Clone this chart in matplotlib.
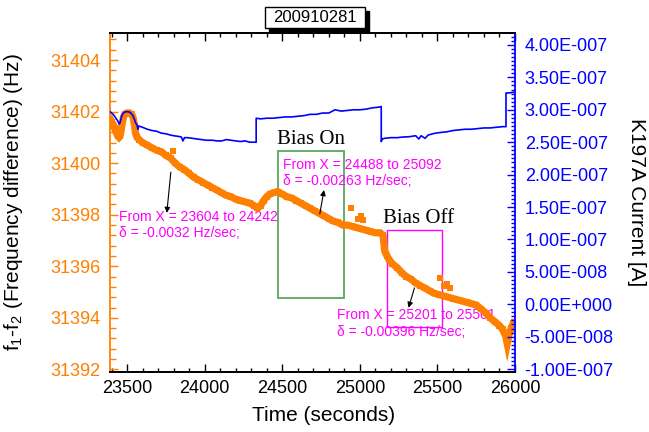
import numpy as np
import matplotlib
matplotlib.use("Agg")
import matplotlib.pyplot as plt
from matplotlib.patches import Rectangle
from matplotlib.ticker import MultipleLocator, FixedLocator, FuncFormatter

plt.rcParams['font.family'] = ['Liberation Sans', 'DejaVu Sans']
plt.rcParams['mathtext.fontset'] = 'custom'
plt.rcParams['mathtext.rm'] = 'Liberation Sans'
plt.rcParams['mathtext.it'] = 'Liberation Sans:italic'

# f1-f2 (Hz) vs time (s)
freq_t = [23392, 23400, 23410, 23420, 23430, 23440, 23448, 23455, 23465, 23475,
          23485, 23500, 23515, 23530, 23540, 23548, 23555, 23565, 23580, 23600,
          23630, 23660, 23690, 23720, 23750, 23780, 23810, 23840, 23870, 23900,
          23930, 23960, 23990, 24020, 24050, 24080, 24110, 24140, 24170, 24200,
          24230, 24260, 24290, 24320, 24340, 24360, 24380, 24400, 24420, 24440,
          24470, 24500, 24530, 24560, 24590, 24620, 24650, 24680, 24710, 24740,
          24770, 24800, 24830, 24860, 24890, 24920, 24950, 24980, 25010, 25040,
          25070, 25100, 25130, 25150, 25160, 25175, 25190, 25210, 25240, 25270,
          25300, 25330, 25360, 25390, 25420, 25450, 25480, 25510, 25540, 25570,
          25600, 25630, 25660, 25690, 25720, 25750, 25780, 25810, 25840, 25870,
          25900, 25920, 25940, 25950, 25960, 25975, 25990]
freq_hz = [31401.7, 31401.6, 31401.5, 31401.35, 31401.2, 31401.05, 31401.0, 31401.05, 31401.4, 31401.75,
           31401.9, 31401.95, 31401.95, 31401.9, 31401.75, 31401.45, 31401.15, 31401.0, 31400.9, 31400.8,
           31400.7, 31400.6, 31400.5, 31400.45, 31400.3, 31400.2, 31400.0, 31399.85, 31399.75, 31399.6,
           31399.45, 31399.35, 31399.25, 31399.15, 31399.05, 31398.95, 31398.85, 31398.75, 31398.7, 31398.6,
           31398.55, 31398.5, 31398.45, 31398.35, 31398.25, 31398.35, 31398.55, 31398.7, 31398.8, 31398.85,
           31398.9, 31398.8, 31398.7, 31398.65, 31398.55, 31398.45, 31398.35, 31398.25, 31398.15, 31398.05,
           31397.95, 31397.85, 31397.75, 31397.7, 31397.6, 31397.6, 31397.55, 31397.5, 31397.45, 31397.4,
           31397.35, 31397.3, 31397.3, 31397.2, 31396.6, 31396.4, 31396.25, 31396.1, 31395.95, 31395.75,
           31395.6, 31395.5, 31395.35, 31395.25, 31395.15, 31395.05, 31394.95, 31394.9, 31394.85, 31394.8,
           31394.75, 31394.7, 31394.65, 31394.6, 31394.55, 31394.5, 31394.35, 31394.2, 31394.0, 31393.85,
           31393.7, 31393.55, 31393.3, 31393.0, 31393.3, 31393.6, 31393.8]

# stray frequency points
stray_t = [23795, 24942, 24990, 25005, 25020, 25519, 25545, 25560, 25580]
stray_hz = [31400.46, 31398.26, 31397.85, 31397.95, 31397.8, 31395.56, 31395.25, 31395.3, 31395.15]

# K197A current (A)
cur_t = [23392, 23400, 23410, 23420, 23430, 23440, 23449, 23455, 23465, 23475,
         23490, 23506, 23520, 23535, 23548, 23555, 23565, 23570, 23575, 23600,
         23630, 23660, 23690, 23720, 23750, 23780, 23800, 23830, 23850, 23860,
         23870, 23890, 23920, 23950, 23980, 24010, 24050, 24080, 24110, 24140,
         24170, 24200, 24230, 24260, 24290, 24320, 24332, 24332, 24360, 24400,
         24440, 24480, 24520, 24560, 24600, 24640, 24680, 24720, 24760, 24800,
         24840, 24880, 24920, 24960, 25000, 25040, 25080, 25120, 25138, 25138,
         25145, 25160, 25200, 25240, 25280, 25320, 25360, 25380, 25395, 25420,
         25440, 25470, 25490, 25520, 25560, 25600, 25640, 25680, 25720, 25760,
         25800, 25840, 25880, 25920, 25942, 25942, 25960, 25990]
cur_a = [2.97e-7, 2.95e-7, 2.93e-7, 2.90e-7, 2.86e-7, 2.83e-7, 2.78e-7, 2.80e-7, 2.90e-7, 2.95e-7,
         2.97e-7, 2.97e-7, 2.96e-7, 2.92e-7, 2.85e-7, 2.80e-7, 2.76e-7, 2.70e-7, 2.75e-7, 2.73e-7,
         2.70e-7, 2.68e-7, 2.67e-7, 2.64e-7, 2.63e-7, 2.61e-7, 2.60e-7, 2.59e-7, 2.58e-7, 2.52e-7,
         2.57e-7, 2.57e-7, 2.56e-7, 2.55e-7, 2.54e-7, 2.53e-7, 2.53e-7, 2.52e-7, 2.52e-7, 2.54e-7,
         2.53e-7, 2.52e-7, 2.51e-7, 2.52e-7, 2.50e-7, 2.50e-7, 2.50e-7, 2.87e-7, 2.86e-7, 2.87e-7,
         2.87e-7, 2.88e-7, 2.89e-7, 2.89e-7, 2.90e-7, 2.91e-7, 2.93e-7, 2.93e-7, 2.95e-7, 2.95e-7,
         3.00e-7, 2.98e-7, 2.99e-7, 3.00e-7, 3.00e-7, 3.01e-7, 3.03e-7, 3.04e-7, 3.05e-7, 2.51e-7,
         2.55e-7, 2.56e-7, 2.57e-7, 2.57e-7, 2.58e-7, 2.585e-7, 2.60e-7, 2.55e-7, 2.60e-7, 2.56e-7,
         2.61e-7, 2.63e-7, 2.64e-7, 2.65e-7, 2.66e-7, 2.68e-7, 2.69e-7, 2.70e-7, 2.70e-7, 2.71e-7,
         2.72e-7, 2.72e-7, 2.73e-7, 2.74e-7, 2.74e-7, 3.26e-7, 3.26e-7, 3.27e-7]

x_ticks = [23500, 24000, 24500, 25000, 25500, 26000]
left_ticks = [31392, 31394, 31396, 31398, 31400, 31402, 31404]
right_ticks = [k * 5e-8 for k in range(-2, 9)]

ORANGE = '#ff8000'
BLUE = '#0000ff'
MAGENTA = '#ff00ff'
GREEN = '#5aa85a'


def sci_fmt(v, pos=None):
    if abs(v) < 1e-15:
        v = 0.0
    m, e = f"{v:.2E}".split('E')
    e = int(e)
    return f"{m}E{'+' if e >= 0 else '-'}{abs(e):03d}"


fig = plt.figure(figsize=(6.49, 4.32), dpi=100)
ax = fig.add_axes([110 / 649, 1 - 372 / 432, 405 / 649, 339 / 432])
ax2 = ax.twinx()

ax.plot(freq_t, freq_hz, color=ORANGE, lw=5.2, marker='s', ms=5, mew=0,
        solid_joinstyle='miter', zorder=2)
ax.plot(stray_t, stray_hz, ls='none', color=ORANGE, marker='s', ms=4.5, mew=0, zorder=2)
ax2.plot(cur_t, cur_a, color=BLUE, lw=1.2)

ax.set_xlim(23390, 26000)
ax.set_ylim(31391.9, 31405.05)
ax2.set_ylim(-1.046e-7, 4.185e-7)

# x axis
ax.xaxis.set_major_locator(FixedLocator(x_ticks))
ax.xaxis.set_minor_locator(MultipleLocator(100))
ax.tick_params(axis='x', which='both', direction='in', top=True, labelsize=13, pad=6)
ax.tick_params(axis='x', which='major', length=6, width=1)
ax.tick_params(axis='x', which='minor', length=3, width=1)

# left axis
ax.yaxis.set_major_locator(FixedLocator(left_ticks))
ax.yaxis.set_minor_locator(MultipleLocator(0.4))
ax.tick_params(axis='y', which='both', direction='in', colors=ORANGE, labelsize=13, pad=7)
ax.tick_params(axis='y', which='major', length=6, width=1)
ax.tick_params(axis='y', which='minor', length=4, width=1)

# right axis
ax2.yaxis.set_major_locator(FixedLocator(right_ticks))
ax2.yaxis.set_minor_locator(MultipleLocator(5e-8 / 8))
ax2.yaxis.set_major_formatter(FuncFormatter(sci_fmt))
ax2.tick_params(axis='y', which='both', direction='in', colors=BLUE, labelsize=13, pad=7)
ax2.tick_params(axis='y', which='major', length=6, width=1)
ax2.tick_params(axis='y', which='minor', length=3, width=1)

for a in (ax, ax2):
    a.spines['top'].set_linewidth(1.3)
    a.spines['bottom'].set_linewidth(1.3)
ax.spines['left'].set_color(ORANGE)
ax.spines['left'].set_linewidth(1.3)
ax.spines['right'].set_visible(False)
ax2.spines['left'].set_visible(False)
ax2.spines['right'].set_color(BLUE)
ax2.spines['right'].set_linewidth(1.3)

ax.set_xlabel('Time (seconds)', fontsize=15)
ax.xaxis.set_label_coords(0.527, -0.1)
ax.set_ylabel(r'f$_\mathregular{1}$-f$_\mathregular{2}$ (Frequency difference) (Hz)', fontsize=15)
ax.yaxis.set_label_coords(-0.21, 0.5)
ax2.set_ylabel('K197A Current [A]', fontsize=15, rotation=270, va='center')
ax2.yaxis.set_label_coords(1.30, 0.5)

# annotation boxes
ax.add_patch(Rectangle((24470, 31394.78), 427, 5.68, fill=False, ec=GREEN, lw=1.3, zorder=1))
ax.add_patch(Rectangle((25175, 31393.64), 353, 3.77, fill=False, ec=MAGENTA, lw=1.0, zorder=1))

ax.text(24466, 31400.55, 'Bias On', family='Liberation Serif', fontsize=15, va='bottom', zorder=1)
ax.text(25150, 31397.5, 'Bias Off', family='Liberation Serif', fontsize=15, va='bottom', zorder=1)

ax.text(23449, 31398.17, 'From X = 23604 to 24242\n\u03b4 = -0.0032 Hz/sec;',
        color=MAGENTA, fontsize=10, va='top', linespacing=1.15, zorder=1)
ax.text(24506, 31400.19, 'From X = 24488 to 25092\n\u03b4 = -0.00263 Hz/sec;',
        color=MAGENTA, fontsize=10, va='top', linespacing=1.2, zorder=1)
ax.text(24854, 31394.38, 'From X = 25201 to 25501\n\u03b4 = -0.00396 Hz/sec;',
        color=MAGENTA, fontsize=10, va='top', linespacing=1.3, zorder=1)

arrow = dict(arrowstyle='-|>', color='k', lw=0.8, mutation_scale=8, shrinkA=0, shrinkB=0)
ax.annotate('', xy=(23756, 31398.07), xytext=(23782, 31399.65), arrowprops=arrow)
ax.annotate('', xy=(24769, 31398.96), xytext=(24742, 31398.03), arrowprops=arrow)
ax.annotate('', xy=(25314, 31394.39), xytext=(25352, 31395.16), arrowprops=arrow)

# title box with drop shadow
fig.patches.append(Rectangle((269 / 649, 1 - 32 / 432), 100 / 649, 21 / 432,
                             transform=fig.transFigure, fc='black', ec='black'))
fig.patches.append(Rectangle((265 / 649, 1 - 28 / 432), 100 / 649, 21 / 432,
                             transform=fig.transFigure, fc='white', ec='black', lw=1))
fig.text(315 / 649, 1 - 17.5 / 432, '200910281', ha='center', va='center', fontsize=12)

fig.savefig('out.png', dpi=100)
